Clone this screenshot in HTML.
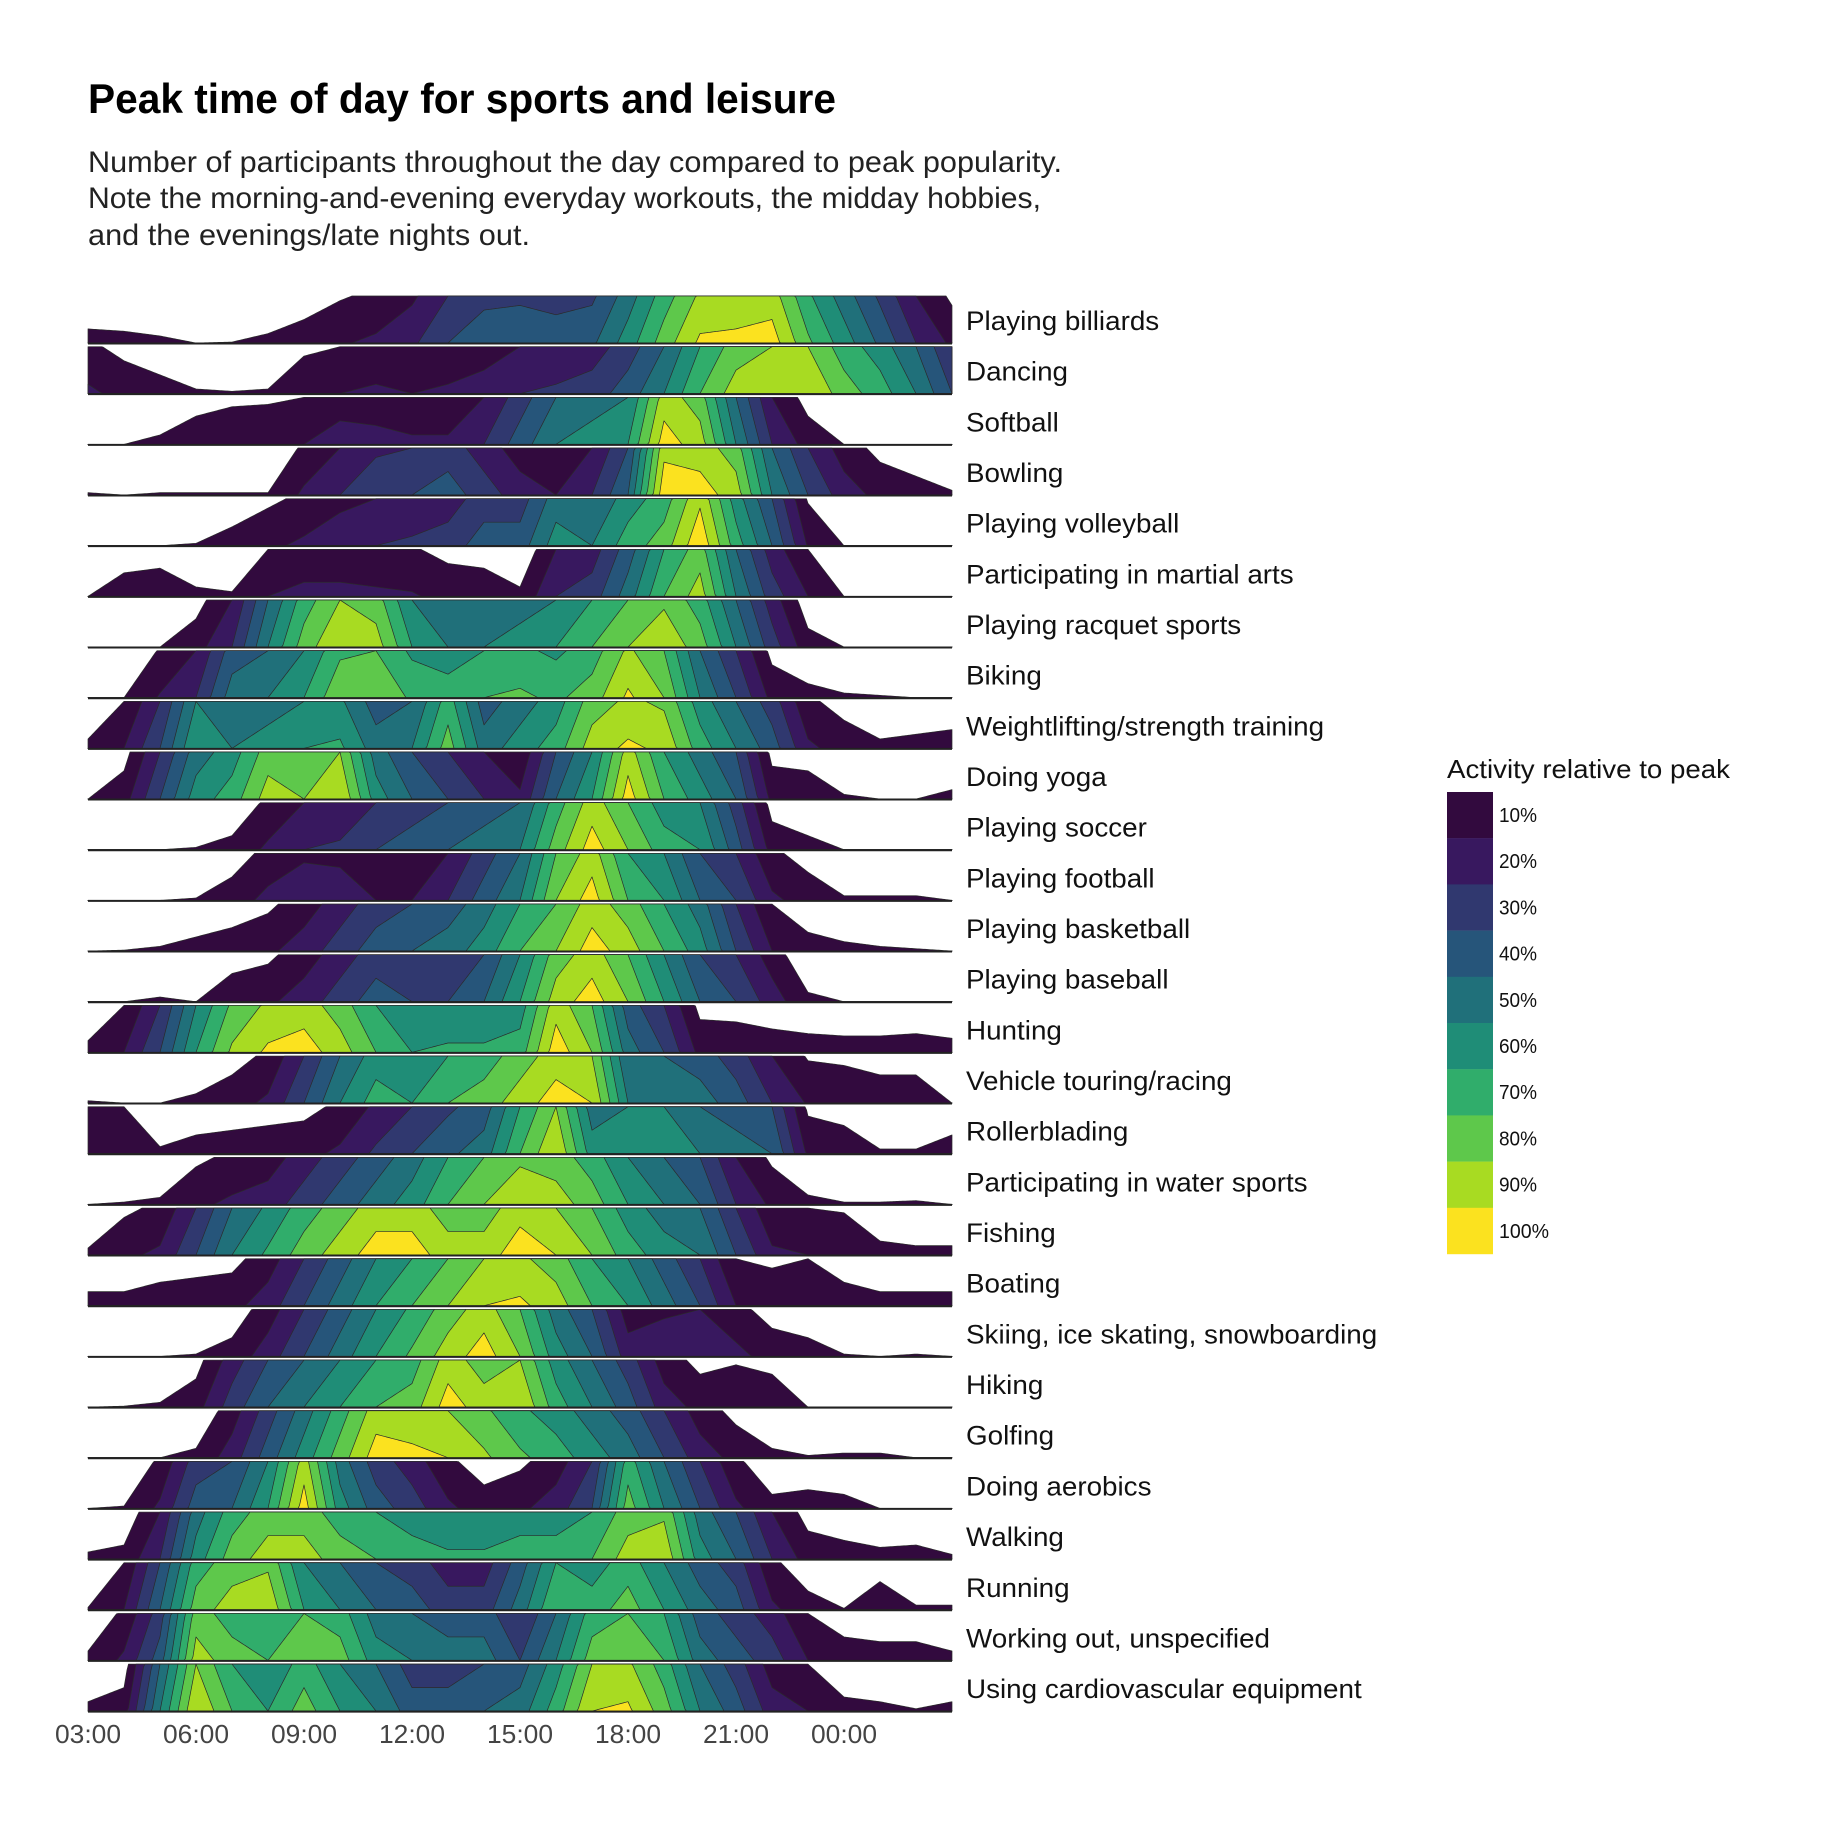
<!DOCTYPE html>
<html><head><meta charset="utf-8"><style>
html,body{margin:0;padding:0;background:#fff;}
svg{display:block;font-family:"Liberation Sans",sans-serif;}
</style></head><body>
<svg id="chart" width="1824" height="1824" viewBox="0 0 1824 1824" xmlns="http://www.w3.org/2000/svg">
<text x="88" y="113" font-size="42" font-weight="bold" fill="#000" textLength="748" lengthAdjust="spacingAndGlyphs">Peak time of day for sports and leisure</text>
<text x="88" y="172" font-size="30" fill="#222" textLength="974" lengthAdjust="spacingAndGlyphs">Number of participants throughout the day compared to peak popularity.</text>
<text x="88" y="208" font-size="30" fill="#222" textLength="953" lengthAdjust="spacingAndGlyphs">Note the morning-and-evening everyday workouts, the midday hobbies,</text>
<text x="88" y="245" font-size="30" fill="#222" textLength="442" lengthAdjust="spacingAndGlyphs">and the evenings/late nights out.</text>
<g id="rows"></g>
<g id="xaxis"></g>
<g id="legend"></g>
</svg>
<script>
const activities = ["Playing billiards","Dancing","Softball","Bowling","Playing volleyball","Participating in martial arts","Playing racquet sports","Biking","Weightlifting/strength training","Doing yoga","Playing soccer","Playing football","Playing basketball","Playing baseball","Hunting","Vehicle touring/racing","Rollerblading","Participating in water sports","Fishing","Boating","Skiing, ice skating, snowboarding","Hiking","Golfing","Doing aerobics","Walking","Running","Working out, unspecified","Using cardiovascular equipment"];
// hourly values (03:00 .. 03:00 next day), fraction of peak
const billiards = [0.03,0.025,0.015,0,0.002,0.02,0.05,0.09,0.12,0.18,0.3,0.37,0.38,0.36,0.38,0.55,0.75,0.92,0.93,0.95,0.72,0.55,0.38,0.2,0.08];
const dancing = [0.12,0.07,0.04,0.01,0.005,0.01,0.08,0.1,0.12,0.1,0.12,0.15,0.2,0.22,0.25,0.35,0.5,0.7,0.85,0.9,0.9,0.75,0.65,0.5,0.3];
const softball = [0,0,0.02,0.06,0.08,0.085,0.1,0.15,0.14,0.12,0.12,0.2,0.35,0.5,0.55,0.6,0.95,0.85,0.5,0.2,0.06,0,0,0,0];
const bowling = [0.005,0,0.005,0.005,0.005,0.005,0.12,0.2,0.28,0.3,0.35,0.25,0.15,0.1,0.2,0.4,0.97,0.95,0.85,0.5,0.3,0.15,0.07,0.04,0.01];
const volleyball = [0,0,0,0.005,0.04,0.08,0.12,0.17,0.2,0.22,0.25,0.35,0.35,0.55,0.5,0.65,0.75,0.98,0.65,0.4,0.09,0,0,0,0];
const martial = [0,0.05,0.06,0.02,0.01,0.1,0.13,0.13,0.12,0.11,0.07,0.06,0.02,0.2,0.25,0.45,0.7,0.85,0.5,0.25,0.1,0,0,0,0];
const racquet = [0,0,0,0.06,0.2,0.5,0.75,0.9,0.85,0.6,0.5,0.5,0.55,0.6,0.7,0.8,0.88,0.75,0.5,0.25,0.04,0,0,0,0];
const biking = [0,0,0.11,0.2,0.45,0.5,0.6,0.78,0.8,0.68,0.65,0.7,0.72,0.68,0.75,0.92,0.8,0.5,0.3,0.07,0.03,0.01,0.005,0,0];
const weights = [0.02,0.1,0.3,0.6,0.5,0.55,0.6,0.62,0.45,0.5,0.75,0.45,0.55,0.65,0.85,0.92,0.88,0.65,0.5,0.35,0.12,0.06,0.02,0.03,0.04];
const yoga = [0,0.06,0.3,0.55,0.65,0.85,0.8,0.9,0.55,0.4,0.3,0.2,0.12,0.4,0.6,0.95,0.7,0.55,0.4,0.07,0.06,0.01,0,0,0.02];
const soccer = [0,0,0,0.005,0.03,0.12,0.2,0.22,0.3,0.35,0.4,0.45,0.5,0.75,0.95,0.8,0.65,0.6,0.35,0.06,0.03,0,0,0,0];
const football = [0,0,0,0.005,0.05,0.13,0.18,0.17,0.1,0.1,0.2,0.35,0.5,0.8,0.95,0.7,0.6,0.4,0.3,0.12,0.06,0.01,0.01,0.01,0];
const basketball = [0,0.002,0.01,0.03,0.05,0.08,0.15,0.25,0.35,0.4,0.45,0.55,0.7,0.8,0.95,0.85,0.7,0.55,0.3,0.1,0.04,0.02,0.01,0.005,0];
const baseball = [0,0,0.01,0,0.06,0.08,0.15,0.25,0.35,0.3,0.3,0.4,0.6,0.85,0.95,0.8,0.6,0.4,0.3,0.15,0.02,0,0,0,0];
const hunting = [0.025,0.1,0.3,0.6,0.82,0.92,0.95,0.85,0.7,0.6,0.62,0.62,0.65,0.96,0.8,0.45,0.3,0.07,0.065,0.05,0.04,0.035,0.035,0.04,0.03];
const vehicle = [0.005,0,0,0.02,0.06,0.12,0.3,0.5,0.65,0.6,0.7,0.75,0.85,0.95,0.9,0.5,0.5,0.45,0.35,0.2,0.09,0.08,0.06,0.06,0];
const roller = [0.1,0.1,0.015,0.04,0.05,0.06,0.07,0.12,0.22,0.3,0.38,0.45,0.7,0.9,0.55,0.6,0.6,0.5,0.45,0.4,0.08,0.06,0.01,0.01,0.04];
const water = [0,0.005,0.015,0.08,0.12,0.15,0.25,0.35,0.45,0.55,0.7,0.8,0.88,0.85,0.75,0.6,0.5,0.4,0.2,0.08,0.02,0.005,0.005,0.008,0];
const fishing = [0.015,0.08,0.12,0.3,0.5,0.62,0.75,0.85,0.95,0.95,0.85,0.85,0.96,0.9,0.8,0.65,0.55,0.5,0.3,0.12,0.1,0.09,0.03,0.02,0.02];
const boating = [0.03,0.03,0.05,0.06,0.07,0.15,0.3,0.45,0.6,0.7,0.8,0.9,0.92,0.85,0.7,0.6,0.45,0.3,0.1,0.08,0.1,0.05,0.03,0.03,0.03];
const skiing = [0,0,0,0.005,0.04,0.15,0.3,0.45,0.6,0.72,0.85,0.95,0.8,0.55,0.4,0.15,0.18,0.2,0.13,0.06,0.04,0.005,0,0.005,0];
const hiking = [0,0.002,0.01,0.06,0.25,0.4,0.5,0.6,0.7,0.75,0.95,0.85,0.9,0.65,0.5,0.35,0.15,0.07,0.09,0.07,0,0,0,0,0];
const golfing = [0,0,0,0.02,0.15,0.35,0.55,0.75,0.95,0.93,0.9,0.82,0.72,0.65,0.55,0.45,0.3,0.15,0.07,0.02,0.005,0.01,0.01,0,0];
const aerobics = [0,0.005,0.12,0.35,0.4,0.6,0.95,0.55,0.35,0.25,0.12,0.05,0.08,0.15,0.3,0.75,0.5,0.3,0.12,0.03,0.04,0.03,0,0,0];
const walking = [0.015,0.03,0.2,0.55,0.75,0.85,0.85,0.75,0.7,0.65,0.62,0.62,0.65,0.65,0.7,0.85,0.88,0.55,0.4,0.2,0.06,0.04,0.025,0.03,0.01];
const running = [0.005,0.1,0.4,0.75,0.85,0.88,0.6,0.5,0.4,0.35,0.25,0.25,0.45,0.7,0.65,0.75,0.6,0.45,0.35,0.12,0.04,0.003,0.06,0.01,0.01];
const workout = [0.02,0.12,0.35,0.85,0.75,0.7,0.8,0.75,0.55,0.5,0.45,0.45,0.3,0.5,0.75,0.8,0.7,0.45,0.35,0.25,0.1,0.05,0.04,0.04,0.02];
const cardio = [0.02,0.05,0.5,0.9,0.7,0.6,0.75,0.6,0.5,0.35,0.35,0.4,0.45,0.65,0.9,0.92,0.75,0.5,0.35,0.15,0.1,0.03,0.02,0.005,0.02];
const series = [billiards,dancing,softball,bowling,volleyball,martial,racquet,biking,weights,yoga,soccer,football,basketball,baseball,hunting,vehicle,roller,water,fishing,boating,skiing,hiking,golfing,aerobics,walking,running,workout,cardio];
const tickLabels = ["03:00","06:00","09:00","12:00","15:00","18:00","21:00","00:00"];
const tickHours = [0,3,6,9,12,15,18,21];
const legendLabels = ["10%","20%","30%","40%","50%","60%","70%","80%","90%","100%"];

const colors = ["#320a3e","#38185f","#30386f","#26557a","#20707a","#1f8d77","#30ad6b","#5ec84b","#a8db22","#fbe21f"];
const NS = "http://www.w3.org/2000/svg";
const X0 = 88, PXH = 36.0, BASE0 = 343, PITCH = 50.67, H = 47;
const xScale = h => X0 + h * PXH;
const rowsG = document.getElementById('rows');

function valAt(arr, h) {
  const i = Math.min(Math.floor(h), arr.length - 2);
  const t = h - i;
  return arr[i] * (1 - t) + arr[i + 1] * t;
}

series.forEach((arr, r) => {
  const base = BASE0 + r * PITCH;
  const g = document.createElementNS(NS, 'g');
  
  
  rowsG.appendChild(g);
  const N = 24 * 24;
  for (let k = 0; k < 10; k++) {
    let pts = [];
    for (let s = 0; s <= N; s++) {
      const h = s / 24;
      const v = valAt(arr, h);
      const f = Math.max(0, Math.min(1, v * 10 - k));
      pts.push(xScale(h).toFixed(2) + ',' + (base - f * H).toFixed(2));
    }
    const d = 'M' + xScale(0) + ',' + base + ' L' + pts.join(' L') + ' L' + xScale(24) + ',' + base + ' Z';
    const p = document.createElementNS(NS, 'path');
    
    
    p.setAttribute('d', d);
    p.setAttribute('fill', colors[k]);
    p.setAttribute('stroke', '#2b2b2b');
    p.setAttribute('stroke-width', '0.7');
    p.setAttribute('stroke-linejoin', 'round');
    g.appendChild(p);
  }
  const line = document.createElementNS(NS, 'line');
  
  
  line.setAttribute('x1', X0); line.setAttribute('x2', xScale(24));
  line.setAttribute('y1', base + 0.5); line.setAttribute('y2', base + 0.5);
  line.setAttribute('stroke', '#222'); line.setAttribute('stroke-width', '2');
  g.appendChild(line);
  const t = document.createElementNS(NS, 'text');
  
  
  t.setAttribute('x', 966); t.setAttribute('y', base - 13);
  t.setAttribute('font-size', '27'); t.setAttribute('fill', '#111');
  t.textContent = activities[r];
  g.appendChild(t);
  const w = t.getComputedTextLength();
  t.setAttribute('textLength', (w * 1.03).toFixed(1));
  t.setAttribute('lengthAdjust', 'spacingAndGlyphs');
});

const ax = document.getElementById('xaxis');
tickLabels.forEach((lab, i) => {
  const t = document.createElementNS(NS, 'text');
  
  
  t.setAttribute('x', xScale(tickHours[i])); t.setAttribute('y', 1743);
  t.setAttribute('font-size', '26'); t.setAttribute('fill', '#444');
  t.setAttribute('text-anchor', 'middle');
  t.setAttribute('textLength', '66'); t.setAttribute('lengthAdjust', 'spacingAndGlyphs');
  t.textContent = lab;
  ax.appendChild(t);
});

const lg = document.getElementById('legend');
const lt = document.createElementNS(NS, 'text');


lt.setAttribute('x', 1447); lt.setAttribute('y', 778);
lt.setAttribute('font-size', '26'); lt.setAttribute('fill', '#111');
lt.setAttribute('textLength', '283'); lt.setAttribute('lengthAdjust', 'spacingAndGlyphs');
lt.textContent = 'Activity relative to peak';
lg.appendChild(lt);
legendLabels.forEach((lab, i) => {
  const y = 792 + i * 46.2;
  const r = document.createElementNS(NS, 'rect');
  
  
  r.setAttribute('x', 1447); r.setAttribute('y', y);
  r.setAttribute('width', 46); r.setAttribute('height', 46.4);
  r.setAttribute('fill', colors[i]);
  lg.appendChild(r);
  const t = document.createElementNS(NS, 'text');
  
  
  t.setAttribute('x', 1499); t.setAttribute('y', y + 30);
  t.setAttribute('font-size', '20'); t.setAttribute('fill', '#111');
  t.setAttribute('textLength', lab.length > 3 ? '50' : '38'); t.setAttribute('lengthAdjust', 'spacingAndGlyphs');
  t.textContent = lab;
  lg.appendChild(t);
});
</script>
</body></html>
